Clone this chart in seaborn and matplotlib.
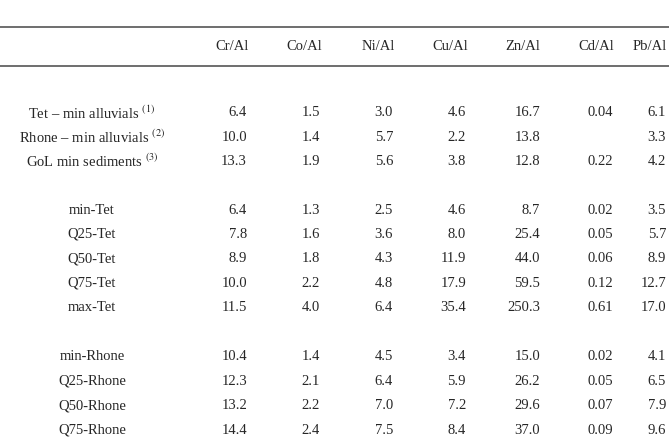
import matplotlib
matplotlib.use("Agg")
import matplotlib.pyplot as plt
import seaborn as sns

sns.set_theme(style="white")
plt.rcParams['font.family'] = ['Liberation Serif', 'DejaVu Serif']
plt.rcParams['mathtext.fontset'] = 'stix'

columns = ["Cr/Al", "Co/Al", "Ni/Al", "Cu/Al", "Zn/Al", "Cd/Al", "Pb/Al"]
group1_labels = ["Tet – min alluvials $^{(1)}$", "Rhone – min alluvials $^{(2)}$", "GoL min sediments $^{(3)}$"]
group1_values = [["6.4", "1.5", "3.0", "4.6", "16.7", "0.04", "6.1"],
                 ["10.0", "1.4", "5.7", "2.2", "13.8", "", "3.3"],
                 ["13.3", "1.9", "5.6", "3.8", "12.8", "0.22", "4.2"]]
tet_labels = ["min-Tet", "Q25-Tet", "Q50-Tet", "Q75-Tet", "max-Tet"]
tet_values = [["6.4", "1.3", "2.5", "4.6", "8.7", "0.02", "3.5"],
              ["7.8", "1.6", "3.6", "8.0", "25.4", "0.05", "5.7"],
              ["8.9", "1.8", "4.3", "11.9", "44.0", "0.06", "8.9"],
              ["10.0", "2.2", "4.8", "17.9", "59.5", "0.12", "12.7"],
              ["11.5", "4.0", "6.4", "35.4", "250.3", "0.61", "17.0"]]
rhone_labels = ["min-Rhone", "Q25-Rhone", "Q50-Rhone", "Q75-Rhone", "max-Rhone"]
rhone_values = [["10.4", "1.4", "4.5", "3.4", "15.0", "0.02", "4.1"],
                ["12.3", "2.1", "6.4", "5.9", "26.2", "0.05", "6.5"],
                ["13.2", "2.2", "7.0", "7.2", "29.6", "0.07", "7.9"],
                ["14.4", "2.4", "7.5", "8.4", "37.0", "0.09", "9.6"],
                ["26.6", "4.3", "14.8", "19.3", "68.1", "0.14", "27.9"]]

fig = plt.figure(figsize=(6.69, 4.40), dpi=100)
ax = fig.add_axes([0, 0, 1, 1])
ax.set_xlim(0, 669)
ax.set_ylim(440, 0)
ax.axis("off")

fs = 10.5
col_centers = [232, 304, 378, 450, 523, 596, 650]
col_right = [247, 320, 393, 466, 540, 613, 666]
label_x = 92

ax.plot([0, 669], [27, 27], color="#555555", lw=1.2)
ax.plot([0, 669], [66, 66], color="#555555", lw=1.2)
for c, x in zip(columns, col_centers):
    ax.text(x, 47, c, ha="center", va="center", fontsize=fs)

def draw(labels, values, y0):
    for i, (lab, vals) in enumerate(zip(labels, values)):
        y = y0 + i * 24.4
        ax.text(label_x, y, lab, ha="center", va="center", fontsize=fs)
        for v, x in zip(vals, col_right):
            ax.text(x, y, v, ha="right", va="center", fontsize=fs)

draw(group1_labels, group1_values, 113)
draw(tet_labels, tet_values, 210)
draw(rhone_labels, rhone_values, 357)

fig.savefig("out.png", dpi=100)
